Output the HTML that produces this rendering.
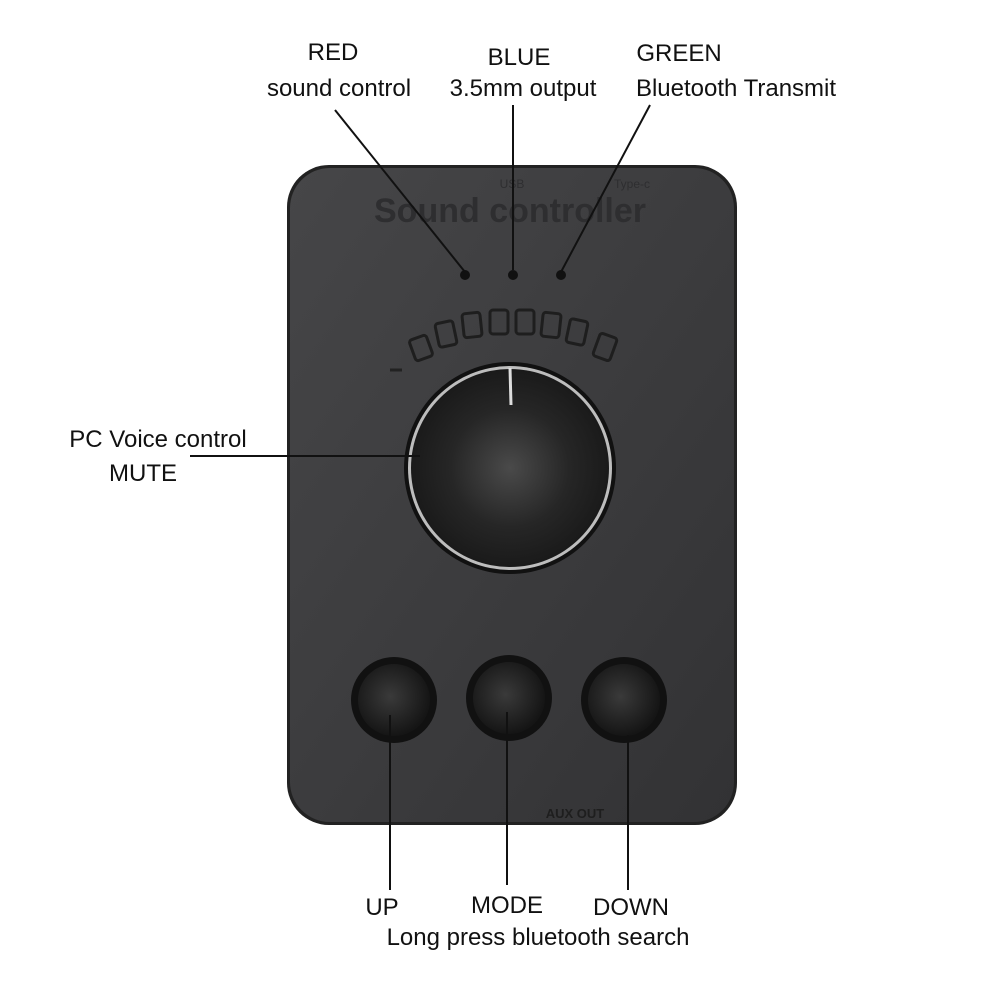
<!DOCTYPE html>
<html><head><style>
body{margin:0;background:#fff;}
text{font-family:"Liberation Sans",sans-serif;}
</style></head><body>
<svg width="1000" height="1000" viewBox="0 0 1000 1000" xmlns="http://www.w3.org/2000/svg">
<defs>
<linearGradient id="dev" x1="0" y1="0" x2="1" y2="1">
<stop offset="0" stop-color="#464648"/><stop offset="1" stop-color="#323234"/>
</linearGradient>
<radialGradient id="knob" cx="0.5" cy="0.5" r="0.5">
<stop offset="0" stop-color="#4a4a4a"/><stop offset="0.6" stop-color="#262626"/><stop offset="1" stop-color="#1a1a1a"/>
</radialGradient>
<radialGradient id="btn" cx="0.45" cy="0.45" r="0.55">
<stop offset="0" stop-color="#3a3a3a"/><stop offset="1" stop-color="#151515"/>
</radialGradient>
</defs>
<rect x="287" y="165" width="450" height="660" rx="42" fill="#222"/>
<rect x="290" y="168" width="444" height="654" rx="40" fill="url(#dev)"/>
<text x="510" y="222" font-size="34" font-weight="bold" fill="#2e2e30" text-anchor="middle">Sound controller</text>
<text x="512" y="188" font-size="12" fill="#2e2e30" text-anchor="middle">USB</text>
<text x="632" y="188" font-size="12" fill="#2e2e30" text-anchor="middle">Type-c</text>
<circle cx="465" cy="275" r="5" fill="#111"/>
<circle cx="513" cy="275" r="5" fill="#111"/>
<circle cx="561" cy="275" r="5" fill="#111"/>
<g fill="none" stroke="#1e1e1e" stroke-width="3">
<rect x="412" y="337" width="18" height="22" rx="3" transform="rotate(-20 421 348)"/>
<rect x="437" y="322" width="18" height="24" rx="3" transform="rotate(-12 446 334)"/>
<rect x="463" y="313" width="18" height="24" rx="3" transform="rotate(-6 472 325)"/>
<rect x="490" y="310" width="18" height="24" rx="3"/>
<rect x="516" y="310" width="18" height="24" rx="3"/>
<rect x="542" y="313" width="18" height="24" rx="3" transform="rotate(6 551 325)"/>
<rect x="568" y="320" width="18" height="24" rx="3" transform="rotate(12 577 332)"/>
<rect x="596" y="335" width="18" height="24" rx="3" transform="rotate(20 605 347)"/>
</g>
<line x1="390" y1="370" x2="402" y2="370" stroke="#222" stroke-width="3"/>
<circle cx="510" cy="468" r="106" fill="#111"/>
<circle cx="510" cy="468" r="102" fill="#bdbdbd"/>
<circle cx="510" cy="468" r="99" fill="url(#knob)"/>
<line x1="510" y1="368" x2="511" y2="405" stroke="#ddd" stroke-width="3"/>
<g>
<circle cx="394" cy="700" r="43" fill="#111"/><circle cx="394" cy="700" r="36" fill="url(#btn)"/>
<circle cx="509" cy="698" r="43" fill="#111"/><circle cx="509" cy="698" r="36" fill="url(#btn)"/>
<circle cx="624" cy="700" r="43" fill="#111"/><circle cx="624" cy="700" r="36" fill="url(#btn)"/>
</g>
<text x="575" y="818" font-size="13" font-weight="bold" fill="#1e1e1e" text-anchor="middle">AUX OUT</text>
<g stroke="#111" stroke-width="2" fill="none">
<line x1="335" y1="110" x2="465" y2="272"/>
<line x1="513" y1="105" x2="513" y2="270"/>
<line x1="650" y1="105" x2="561" y2="272"/>
<line x1="190" y1="456" x2="420" y2="456"/>
<line x1="390" y1="715" x2="390" y2="890"/>
<line x1="507" y1="712" x2="507" y2="885"/>
<line x1="628" y1="735" x2="628" y2="890"/>
</g>
<g font-size="24" fill="#111" text-anchor="middle">
<text x="333" y="60">RED</text>
<text x="339" y="96">sound control</text>
<text x="519" y="65">BLUE</text>
<text x="523" y="96">3.5mm output</text>
<text x="679" y="61">GREEN</text>
<text x="736" y="96">Bluetooth Transmit</text>
<text x="158" y="447">PC Voice control</text>
<text x="143" y="481">MUTE</text>
<text x="382" y="915">UP</text>
<text x="507" y="913">MODE</text>
<text x="631" y="915">DOWN</text>
<text x="538" y="945">Long press bluetooth search</text>
</g>
</svg>
</body></html>
